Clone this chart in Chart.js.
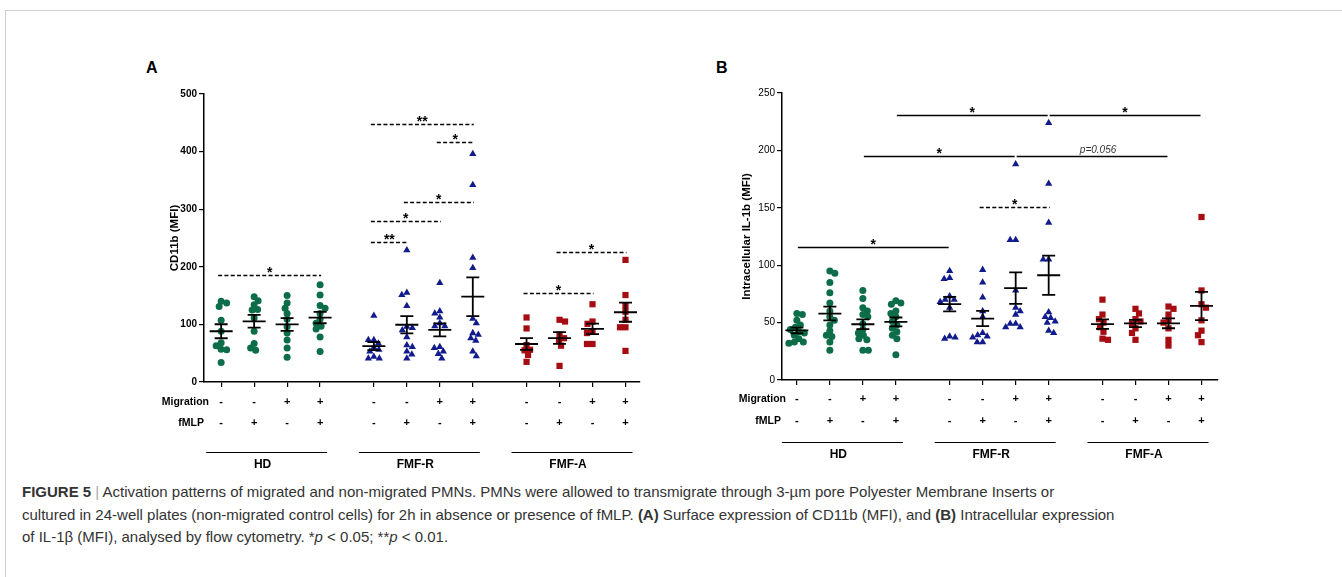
<!DOCTYPE html>
<html>
<head>
<meta charset="utf-8">
<script src="https://cdn.jsdelivr.net/npm/chart.js@4.4.0/dist/chart.umd.min.js"></script>
<style>
  html, body { margin: 0; padding: 0; background: #fff; }
  body { width: 1342px; height: 577px; position: relative; overflow: hidden;
         font-family: "Liberation Sans", Arial, sans-serif; }
  .frame { position: absolute; left: 5px; top: 10px; right: -2px; bottom: -2px;
           border-top: 1px solid #cfcfcf; border-left: 1px solid #cfcfcf; }
  .wrap { position: absolute; }
  #wrapA { left: 130px; top: 50px; width: 530px; height: 430px; }
  #wrapB { left: 700px; top: 50px; width: 540px; height: 430px; }
  .panel-tag { position: absolute; font: bold 16px "Liberation Sans", Arial, sans-serif; color: #000; }
  .caption { position: absolute; left: 22px; top: 481px; white-space: nowrap;
             font-size: 15px; line-height: 22.5px; color: #333; }
  .caption .sep { color: #aaa; }
</style>
</head>
<body>
<div class="frame"></div>
<div class="panel-tag" style="left:146px; top:59px;">A</div>
<div class="panel-tag" style="left:716px; top:59px;">B</div>
<div class="wrap" id="wrapA"><canvas id="chartA"></canvas></div>
<div class="wrap" id="wrapB"><canvas id="chartB"></canvas></div>
<div class="caption"><b>FIGURE 5</b> <span class="sep">|</span> Activation patterns of migrated and non-migrated PMNs. PMNs were allowed to transmigrate through 3-µm pore Polyester Membrane Inserts or<br>cultured in 24-well plates (non-migrated control cells) for 2h in absence or presence of fMLP. <b>(A)</b> Surface expression of CD11b (MFI), and <b>(B)</b> Intracellular expression<br>of IL-1β (MFI), analysed by flow cytometry. *<i>p</i> &lt; 0.05; **<i>p</i> &lt; 0.01.</div>

<script>
// ---- groups and conditions ----
const groupNames = ['HD', 'FMF-R', 'FMF-A'];
const migrationSigns = ['-', '-', '+', '+'];
const fmlpSigns = ['-', '+', '-', '+'];

// ---- (A) CD11b (MFI), one list per condition ----
const cd11bHD = [
  [140, 137, 131, 107, 88, 68, 63, 57, 56, 34],
  [148, 141, 134, 126, 125, 111, 88, 67, 59, 55],
  [150, 137, 128, 119, 109, 96, 85, 73, 59, 43],
  [169, 151, 133, 128, 119, 109, 102, 97, 92, 78, 53]
];
const cd11bFMFR = [
  [115, 73, 73, 67, 60, 56, 53, 44, 41, 41],
  [229, 155, 151, 132, 96, 94, 90, 78, 64, 61, 53, 48, 41],
  [172, 123, 119, 112, 102, 97, 97, 61, 59, 53, 49, 41],
  [396, 342, 216, 198, 110, 102, 85, 82, 76, 72, 53, 45]
];
const cd11bFMFA = [
  [112, 93, 64, 56, 55, 47, 35],
  [108, 105, 82, 76, 72, 63, 28],
  [135, 105, 101, 87, 85, 66, 66],
  [212, 151, 132, 122, 108, 95, 95, 54]
];
const cd11bTicks = [0, 100, 200, 300, 400, 500];
// [first condition, last condition, height, label]
const cd11bBrackets = [
  [0, 3, 186, '*'],
  [4, 7, 448, '**'],
  [6, 7, 416, '*'],
  [5, 7, 312, '*'],
  [4, 6, 280, '*'],
  [4, 5, 243, '**'],
  [8, 10, 154, '*'],
  [9, 11, 226, '*']
];

// ---- (B) Intracellular IL-1b (MFI) ----
const il1bHD = [
  [57, 58, 52, 48, 46, 44, 42, 41, 39, 36, 33, 32, 33],
  [95, 93, 85, 76, 67, 60, 55, 52, 48, 43, 39, 38, 33, 26],
  [78, 71, 63, 60, 57, 55, 49, 44, 41, 39, 36, 35, 26, 26],
  [69, 67, 66, 60, 58, 55, 51, 48, 45, 42, 39, 36, 22]
];
const il1bFMFR = [
  [95, 89, 88, 73, 70, 70, 68, 63, 38, 37, 36],
  [96, 85, 72, 60, 55, 41, 39, 38, 37, 33, 33],
  [188, 122, 122, 78, 63, 60, 57, 49, 49, 46, 46],
  [224, 171, 137, 105, 105, 59, 55, 54, 51, 50, 43, 41]
];
const il1bFMFA = [
  [70, 57, 53, 50, 46, 42, 36, 35],
  [62, 58, 53, 51, 49, 45, 41, 35],
  [64, 62, 57, 52, 50, 45, 35, 30],
  [142, 78, 66, 63, 52, 43, 39, 33]
];
const il1bTicks = [0, 50, 100, 150, 200, 250];
// [first condition, last condition, height, label, dashed]
const il1bBrackets = [
  [0, 4, 116, '*', false],
  [2, 6, 195, '*', false],
  [6, 10, 195, 'p=0.056', false],
  [3, 7, 231, '*', false],
  [7, 11, 231, '*', false],
  [5, 7, 151, '*', true]
];

// ---- drawing ----
const GROUP_STEP = 4.63;   // spacing between the first conditions of neighbouring groups
const condPos = [];
groupNames.forEach((g, gi) => migrationSigns.forEach((s, ci) => condPos.push(gi * GROUP_STEP + ci)));

const groupStyles = [
  { color: '#0d6d49', shape: 'circle',   radius: 3.5 },
  { color: '#111b8c', shape: 'triangle', radius: 4.2 },
  { color: '#a50d12', shape: 'rect',     radius: 4.4 }
];

function buildDatasets(groupLists) {
  return groupLists.map((lists, gi) => {
    const pts = [];
    lists.forEach((vals, ci) => {
      const cat = gi * 4 + ci;
      vals.forEach(v => pts.push({ x: condPos[cat], y: v, cat: cat, base: condPos[cat] }));
    });
    const st = groupStyles[gi];
    return {
      data: pts,
      pointStyle: st.shape,
      pointRadius: st.radius,
      pointHoverRadius: st.radius,
      backgroundColor: st.color,
      borderColor: st.color,
      borderWidth: 0,
      showLine: false
    };
  });
}

// spread overlapping points sideways, as in a dot plot
function swarm(chart, minDist) {
  const xs = chart.scales.x, ys = chart.scales.y;
  const pxPerUnit = xs.getPixelForValue(1) - xs.getPixelForValue(0);
  chart.data.datasets.forEach(ds => {
    const byCat = {};
    ds.data.forEach(p => { (byCat[p.cat] = byCat[p.cat] || []).push(p); });
    Object.values(byCat).forEach(pts => {
      const placed = [];
      pts.slice().sort((a, b) => b.y - a.y).forEach((p, k) => {
        const py = ys.getPixelForValue(p.y);
        let chosen = 0;
        const dir = (k % 2) ? 1 : -1;
        for (let step = 0; step < 60; step++) {
          const off = (step % 2 ? dir : -dir) * Math.ceil(step / 2) * 0.5;
          const ok = placed.every(q => (q.off - off) ** 2 + (q.py - py) ** 2 >= minDist * minDist);
          if (ok) { chosen = off; break; }
        }
        placed.push({ off: chosen, py: py });
        p.x = p.base + chosen / pxPerUnit;
      });
    });
  });
  chart.update('none');
}

function meanSem(vals) {
  const n = vals.length;
  const m = vals.reduce((a, b) => a + b, 0) / n;
  const sd = Math.sqrt(vals.reduce((a, b) => a + (b - m) ** 2, 0) / (n - 1));
  return [m, sd / Math.sqrt(n)];
}

function annotations(cfg) {
  return {
    id: 'annot',
    afterDatasetsDraw(chart) {
      const ctx = chart.ctx, xs = chart.scales.x, ys = chart.scales.y;
      ctx.save();
      ctx.strokeStyle = '#000';
      ctx.lineWidth = 1.8;
      cfg.lists.forEach((lists, gi) => lists.forEach((vals, ci) => {
        const cx = xs.getPixelForValue(condPos[gi * 4 + ci]);
        const [m, s] = meanSem(vals);
        const ym = ys.getPixelForValue(m), yl = ys.getPixelForValue(m - s), yh = ys.getPixelForValue(m + s);
        ctx.beginPath();
        ctx.moveTo(cx - 11.5, ym); ctx.lineTo(cx + 11.5, ym);
        ctx.moveTo(cx, yl); ctx.lineTo(cx, yh);
        ctx.moveTo(cx - 6.5, yl); ctx.lineTo(cx + 6.5, yl);
        ctx.moveTo(cx - 6.5, yh); ctx.lineTo(cx + 6.5, yh);
        ctx.stroke();
      }));
      ctx.restore();
    },
    afterDraw(chart) {
      const ctx = chart.ctx, xs = chart.scales.x, ys = chart.scales.y;
      const area = chart.chartArea;
      ctx.save();
      ctx.fillStyle = '#000';
      ctx.strokeStyle = '#000';

      // significance bars
      cfg.brackets.forEach(b => {
        const [c0, c1, h, label, dashedFlag] = b;
        const dashed = cfg.allDashed || dashedFlag;
        let x0 = xs.getPixelForValue(condPos[c0]), x1 = xs.getPixelForValue(condPos[c1]);
        if (dashed) { x0 -= 3; x1 += 1; } else { x0 += 1; x1 -= 1; }
        const y = Math.round(ys.getPixelForValue(h)) + 0.5;
        ctx.lineWidth = 1.3;
        ctx.setLineDash(dashed ? [4, 2.3] : []);
        ctx.beginPath(); ctx.moveTo(x0, y); ctx.lineTo(x1, y); ctx.stroke();
        ctx.setLineDash([]);
        const mid = (x0 + x1) / 2;
        ctx.textAlign = 'center';
        ctx.textBaseline = 'alphabetic';
        if (label.startsWith('p')) {
          ctx.font = 'italic 10px "Liberation Sans", Arial, sans-serif';
          ctx.fillStyle = '#333';
          ctx.fillText(label, mid + 6, y - 4);
          ctx.fillStyle = '#000';
        } else {
          ctx.font = 'bold 14px "Liberation Sans", Arial, sans-serif';
          ctx.fillText(label, mid, y + 1);
        }
      });

      // axis title
      ctx.save();
      ctx.translate(area.left + cfg.titleDx, (area.top + area.bottom) / 2);
      ctx.rotate(-Math.PI / 2);
      ctx.font = 'bold 11.5px "Liberation Sans", Arial, sans-serif';
      ctx.textAlign = 'center';
      ctx.textBaseline = 'middle';
      ctx.fillText(cfg.title, 0, 0);
      ctx.restore();

      // condition rows under the axis
      ctx.textBaseline = 'middle';
      ctx.font = 'bold 10.5px "Liberation Sans", Arial, sans-serif';
      ctx.textAlign = 'right';
      ctx.fillText('Migration', area.left + cfg.rowLabelDx, area.bottom + cfg.rowMig);
      ctx.fillText('fMLP', area.left + cfg.rowLabelDx - 5, area.bottom + cfg.rowFmlp);
      ctx.textAlign = 'center';
      ctx.font = 'bold 11px "Liberation Sans", Arial, sans-serif';
      condPos.forEach((p, i) => {
        const cx = xs.getPixelForValue(p);
        ctx.fillText(migrationSigns[i % 4], cx, area.bottom + cfg.rowMig);
        ctx.fillText(fmlpSigns[i % 4], cx, area.bottom + cfg.rowFmlp);
      });

      // group underlines and names
      ctx.lineWidth = 1.2;
      ctx.font = 'bold 12px "Liberation Sans", Arial, sans-serif';
      groupNames.forEach((g, gi) => {
        const xa = xs.getPixelForValue(condPos[gi * 4]) - 15;
        const xb = xs.getPixelForValue(condPos[gi * 4 + 3]) + 7;
        const yl = area.bottom + cfg.groupLine + 0.5;
        ctx.beginPath(); ctx.moveTo(xa, yl); ctx.lineTo(xb, yl); ctx.stroke();
        ctx.fillText(g, (xa + xb) / 2 - 4, area.bottom + cfg.groupLabel);
      });
      ctx.restore();
    }
  };
}

function makeChart(id, cfg) {
  const chart = new Chart(document.getElementById(id), {
    type: 'scatter',
    data: { datasets: buildDatasets(cfg.lists) },
    options: {
      responsive: true,
      maintainAspectRatio: false,
      animation: false,
      events: [],
      layout: { padding: cfg.padding },
      plugins: { legend: { display: false }, tooltip: { enabled: false } },
      scales: {
        x: {
          type: 'linear',
          min: cfg.xMin, max: cfg.xMax,
          afterBuildTicks: s => { s.ticks = condPos.map(v => ({ value: v })); },
          afterFit: s => { s.height = 12; },
          ticks: { autoSkip: false, callback: () => '', maxRotation: 0 },
          grid: { drawOnChartArea: false, drawTicks: true, tickLength: 5, color: '#000', lineWidth: 1.2 },
          border: { display: true, color: '#000', width: 1.5 }
        },
        y: {
          min: cfg.ticks[0], max: cfg.ticks[cfg.ticks.length - 1],
          afterBuildTicks: s => { s.ticks = cfg.ticks.map(v => ({ value: v })); },
          afterFit: s => { s.width = cfg.yWidth; },
          ticks: { color: '#000', padding: 2, font: cfg.tickFont },
          grid: { drawOnChartArea: false, drawTicks: true, tickLength: 5, color: '#000', lineWidth: 1.2 },
          border: { display: true, color: '#000', width: 1.5 }
        }
      }
    },
    plugins: [annotations(cfg)]
  });
  swarm(chart, 5.5);
  return chart;
}

makeChart('chartA', {
  lists: [cd11bHD, cd11bFMFR, cd11bFMFA],
  ticks: cd11bTicks,
  brackets: cd11bBrackets,
  allDashed: true,
  title: 'CD11b (MFI)',
  titleDx: -29,
  xMin: -0.52, xMax: 12.7,
  yWidth: 74,
  padding: { top: 44, right: 20, bottom: 86, left: 0 },
  tickFont: { family: '"Liberation Sans", Arial, sans-serif', size: 10, weight: 'bold' },
  rowLabelDx: 5, rowMig: 20, rowFmlp: 41, groupLine: 70, groupLabel: 83
});

makeChart('chartB', {
  lists: [il1bHD, il1bFMFR, il1bFMFA],
  ticks: il1bTicks,
  brackets: il1bBrackets,
  allDashed: false,
  title: 'Intracellular IL-1b (MFI)',
  titleDx: -35,
  xMin: -0.45, xMax: 12.76,
  yWidth: 82,
  padding: { top: 43, right: 22, bottom: 88, left: 0 },
  tickFont: { family: '"Liberation Sans", Arial, sans-serif', size: 10 },
  rowLabelDx: 4, rowMig: 19, rowFmlp: 41, groupLine: 62, groupLabel: 75
});
</script>
</body>
</html>
